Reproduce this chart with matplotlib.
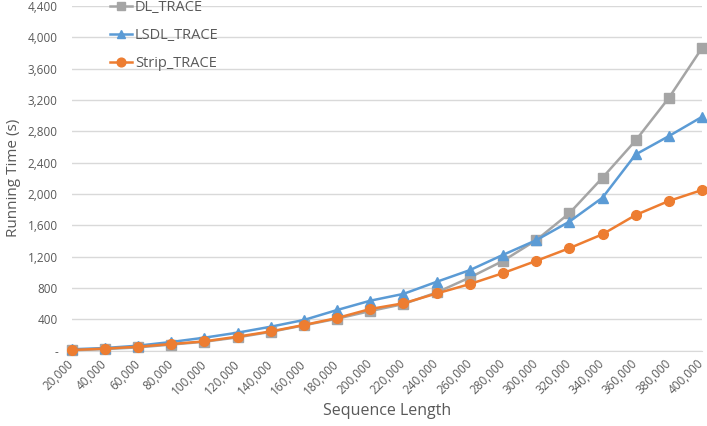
import matplotlib
matplotlib.use("Agg")
import matplotlib.pyplot as plt
from matplotlib.ticker import FuncFormatter

# sequence lengths (x categories)
lengths = [20000, 40000, 60000, 80000, 100000, 120000, 140000, 160000, 180000, 200000,
           220000, 240000, 260000, 280000, 300000, 320000, 340000, 360000, 380000, 400000]

# running time in seconds
dl_trace = [5, 20, 42, 78, 114, 170, 240, 324, 408, 506,
            595, 743, 934, 1146, 1410, 1754, 2208, 2684, 3227, 3864]
lsdl_trace = [18, 34, 64, 111, 166, 230, 306, 392, 519, 638,
              725, 879, 1028, 1223, 1410, 1647, 1953, 2505, 2739, 2985]
strip_trace = [9, 26, 51, 85, 119, 179, 246, 328, 417, 532,
               605, 730, 850, 990, 1146, 1308, 1486, 1732, 1911, 2051]

y_ticks = list(range(0, 4401, 400))

text_color = "#595959"
plt.rcParams["font.family"] = ["Open Sans", "DejaVu Sans"]

fig = plt.figure(figsize=(7.07, 4.26), dpi=100, facecolor="white")
ax = fig.add_axes([0.1014, 0.1768, 0.8916, 0.8092])

series = [
    ("DL_TRACE", dl_trace, "#A5A5A5", "s"),
    ("LSDL_TRACE", lsdl_trace, "#5B9BD5", "^"),
    ("Strip_TRACE", strip_trace, "#ED7D31", "o"),
]
for name, vals, color, marker in series:
    ax.plot(lengths, vals, color=color, marker=marker, markersize=7, linewidth=1.8,
            label=name, clip_on=False, zorder=3)

ax.set_xlim(lengths[0], lengths[-1])
ax.set_ylim(0, 4400)
ax.set_xticks(lengths)
ax.set_xticklabels([f"{v:,}" for v in lengths], rotation=45, ha="right", va="center",
                   rotation_mode="anchor", fontsize=8.5, color=text_color)
ax.set_yticks(y_ticks)
ax.yaxis.set_major_formatter(FuncFormatter(lambda v, p: "-" if v == 0 else f"{int(v):,}"))
ax.tick_params(axis="y", labelsize=8.5, labelcolor=text_color, length=0, pad=10)
ax.tick_params(axis="x", length=0, pad=8)

ax.grid(axis="y", color="#D9D9D9", linewidth=1)
ax.set_axisbelow(True)
for side in ["top", "right", "left"]:
    ax.spines[side].set_visible(False)
ax.spines["bottom"].set_color("#D9D9D9")

ax.set_xlabel("Sequence Length", fontsize=11.5, color=text_color, labelpad=4)
ax.set_ylabel("Running Time (s)", fontsize=11, color=text_color)
ax.yaxis.set_label_coords(-0.08, 0.5)

leg = ax.legend(loc="upper left", bbox_to_anchor=(0.04, 1.055), frameon=False,
                fontsize=10.5, labelcolor=text_color, handlelength=1.5,
                handletextpad=0.2, labelspacing=0.9, markerscale=0.9)

fig.savefig("out.png", dpi=100, facecolor="white")
